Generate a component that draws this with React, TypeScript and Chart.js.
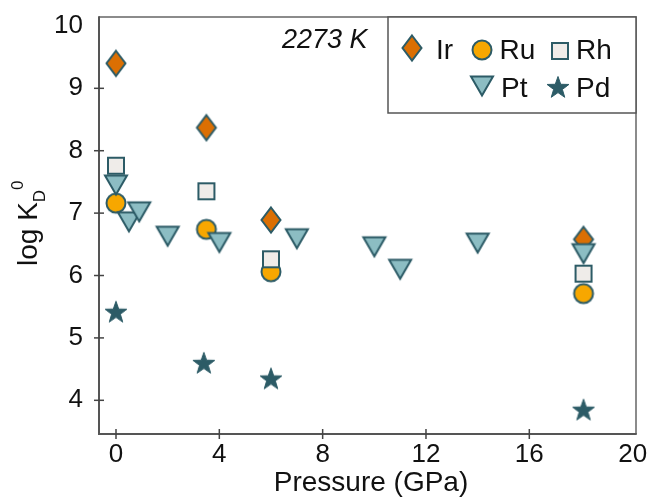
import { useEffect, useRef } from 'react';
import { Chart, registerables } from 'chart.js';

Chart.register(...registerables);

// ---- data ----
const xTickValues = [0, 4, 8, 12, 16, 20];
const yTickValues = [4, 5, 6, 7, 8, 9, 10];

const irPressure = [0, 3.5, 6, 18.1];
const irLogKd = [9.4, 8.37, 6.89, 6.58];
const ruPressure = [0, 3.5, 6, 18.1];
const ruLogKd = [7.16, 6.74, 6.06, 5.71];
const rhPressure = [0, 3.5, 6, 18.1];
const rhLogKd = [7.76, 7.35, 6.26, 6.03];
const ptPressure = [0, 0.5, 0.9, 2, 4, 7, 10, 11, 14, 18.1];
const ptLogKd = [7.45, 6.86, 7.02, 6.63, 6.53, 6.59, 6.46, 6.1, 6.52, 6.35];
const pdPressure = [0, 3.4, 6, 18.1];
const pdLogKd = [5.42, 4.6, 4.35, 3.85];

const seriesNames = ['Ir', 'Ru', 'Rh', 'Pt', 'Pd'];
const annotationText = '2273 K';
const xTitle = 'Pressure (GPa)';

const FONT = '"Liberation Sans", Arial, Helvetica, sans-serif';
const EDGE = '#2C5B66';

type Kind = 'diamond' | 'circle' | 'square' | 'triangleDown' | 'star';

function makeMarker(kind: Kind, fill: string, stroke: string): HTMLCanvasElement {
  const size = 34;
  const c = document.createElement('canvas');
  c.width = size;
  c.height = size;
  const ctx = c.getContext('2d')!;
  const cx = size / 2;
  const cy = size / 2;
  ctx.fillStyle = fill;
  ctx.strokeStyle = stroke;
  ctx.lineWidth = 2;
  ctx.lineJoin = 'miter';
  ctx.beginPath();
  if (kind === 'diamond') {
    const hw = 9.5, hh = 12.5;
    ctx.moveTo(cx, cy - hh);
    ctx.lineTo(cx + hw, cy);
    ctx.lineTo(cx, cy + hh);
    ctx.lineTo(cx - hw, cy);
    ctx.closePath();
  } else if (kind === 'circle') {
    ctx.arc(cx, cy, 9.5, 0, Math.PI * 2);
  } else if (kind === 'square') {
    ctx.rect(cx - 8, cy - 8, 16, 16);
  } else if (kind === 'triangleDown') {
    const s = 22;
    const h = (s * Math.sqrt(3)) / 2;
    ctx.moveTo(cx - s / 2, cy - h / 2);
    ctx.lineTo(cx + s / 2, cy - h / 2);
    ctx.lineTo(cx, cy + h / 2);
    ctx.closePath();
  } else {
    const R = 11.5, r = 4.6;
    for (let i = 0; i < 10; i++) {
      const a = -Math.PI / 2 + (i * Math.PI) / 5;
      const rad = i % 2 === 0 ? R : r;
      const px = cx + rad * Math.cos(a);
      const py = cy + 1 + rad * Math.sin(a);
      if (i === 0) ctx.moveTo(px, py);
      else ctx.lineTo(px, py);
    }
    ctx.closePath();
    ctx.lineWidth = 1;
  }
  ctx.fill();
  ctx.stroke();
  return c;
}

export default function App() {
  const ref = useRef<HTMLCanvasElement | null>(null);

  useEffect(() => {
    const canvas = ref.current;
    if (!canvas) return;

    const markers = {
      Ir: makeMarker('diamond', '#DB6F03', EDGE),
      Ru: makeMarker('circle', '#F7A700', EDGE),
      Rh: makeMarker('square', '#EFECE9', EDGE),
      Pt: makeMarker('triangleDown', '#8CBDC3', EDGE),
      Pd: makeMarker('star', '#2C5B66', EDGE),
    };

    const pts = (xs: number[], ys: number[]) => xs.map((x, i) => ({ x, y: ys[i] }));

    const mk = (label: string, xs: number[], ys: number[], img: HTMLCanvasElement) => ({
      label,
      data: pts(xs, ys),
      pointStyle: img,
      pointRadius: 10,
      pointHoverRadius: 10,
      showLine: false,
    });

    const decor = {
      id: 'decor',
      beforeDatasetsDraw(chart: any) {
        const { ctx, chartArea: a, scales } = chart;
        ctx.save();
        ctx.strokeStyle = '#666';
        ctx.lineWidth = 1.5;
        ctx.beginPath();
        ctx.moveTo(a.left, a.top);
        ctx.lineTo(a.right, a.top);
        ctx.lineTo(a.right, a.bottom);
        ctx.stroke();
        ctx.strokeStyle = '#555';
        ctx.lineWidth = 2;
        ctx.beginPath();
        ctx.moveTo(a.left, a.top - 0.75);
        ctx.lineTo(a.left, a.bottom);
        ctx.lineTo(a.right + 0.75, a.bottom);
        ctx.stroke();
        ctx.strokeStyle = '#444';
        ctx.lineWidth = 1.5;
        yTickValues.filter((v) => v < 10).forEach((v) => {
          const y = scales.y.getPixelForValue(v);
          ctx.beginPath();
          ctx.moveTo(a.left - 5, y);
          ctx.lineTo(a.left + 5, y);
          ctx.stroke();
        });
        xTickValues.filter((v) => v < 20).forEach((v) => {
          const x = scales.x.getPixelForValue(v);
          ctx.beginPath();
          ctx.moveTo(x, a.bottom - 5);
          ctx.lineTo(x, a.bottom + 5);
          ctx.stroke();
        });
        ctx.restore();
      },
      afterDraw(chart: any) {
        const { ctx, chartArea: a } = chart;
        ctx.save();
        // annotation
        ctx.fillStyle = '#111';
        ctx.font = `italic 27px ${FONT}`;
        ctx.textAlign = 'left';
        ctx.textBaseline = 'alphabetic';
        ctx.fillText(annotationText, 282, 48);

        // legend box
        const lx = 388, ly = a.top, lw = a.right - 388, lh = 113 - a.top;
        ctx.fillStyle = '#fff';
        ctx.fillRect(lx, ly, lw, lh);
        ctx.strokeStyle = '#555';
        ctx.lineWidth = 1.5;
        ctx.strokeRect(lx, ly, lw, lh);
        const items: [string, number, number, number, number][] = [
          [seriesNames[0], 412, 48, 436, 59],
          [seriesNames[1], 482, 50, 499.5, 59],
          [seriesNames[2], 560, 51, 576, 59],
          [seriesNames[3], 482, 86, 501, 97],
          [seriesNames[4], 558, 87, 576, 97],
        ];
        ctx.font = `28px ${FONT}`;
        ctx.fillStyle = '#111';
        items.forEach(([name, mx, my, tx, ty]) => {
          const img = (markers as any)[name] as HTMLCanvasElement;
          ctx.drawImage(img, mx - img.width / 2, my - img.height / 2);
          ctx.fillText(name, tx, ty);
        });

        // x title
        ctx.textAlign = 'center';
        ctx.fillText(xTitle, 371, 491);

        // y title
        ctx.save();
        ctx.translate(37, 0);
        ctx.rotate(-Math.PI / 2);
        ctx.textAlign = 'left';
        ctx.font = `28px ${FONT}`;
        const start = -266;
        const main = 'log K';
        ctx.fillText(main, start, 0);
        const w1 = ctx.measureText(main).width;
        ctx.font = `17px ${FONT}`;
        ctx.fillText('D', start + w1, 8);
        const w2 = ctx.measureText('D').width;
        ctx.fillText('0', start + w1 + w2, -14);
        ctx.restore();

        ctx.restore();
      },
    };

    const chart = new Chart(canvas, {
      type: 'scatter',
      data: {
        datasets: [
          mk(seriesNames[4], pdPressure, pdLogKd, markers.Pd),
          mk(seriesNames[3], ptPressure, ptLogKd, markers.Pt),
          mk(seriesNames[2], rhPressure, rhLogKd, markers.Rh),
          mk(seriesNames[1], ruPressure, ruLogKd, markers.Ru),
          mk(seriesNames[0], irPressure, irLogKd, markers.Ir),
        ] as any,
      },
      options: {
        responsive: false,
        animation: false,
        devicePixelRatio: 1,
        layout: { padding: { top: 17, right: 16, left: 0, bottom: 0 } },
        plugins: {
          legend: { display: false },
          tooltip: { enabled: false },
        },
        events: [],
        scales: {
          x: {
            type: 'linear',
            position: 'bottom',
            min: -0.658,
            max: 20.13,
            afterBuildTicks: (s: any) => {
              s.ticks = xTickValues.map((v) => ({ value: v }));
            },
            afterFit: (s: any) => {
              s.height = 64;
              s.paddingLeft = 0;
              s.paddingRight = 0;
            },
            grid: { display: false, drawTicks: false },
            border: { display: false },
            ticks: {
              padding: 5,
              color: '#111',
              font: { family: FONT, size: 26 },
              maxRotation: 0,
              autoSkip: false,
            },
          },
          y: {
            type: 'linear',
            position: 'left',
            min: 3.46,
            max: 10.143,
            afterBuildTicks: (s: any) => {
              s.ticks = yTickValues.map((v) => ({ value: v }));
            },
            afterFit: (s: any) => {
              s.width = 99;
              s.paddingTop = 0;
              s.paddingBottom = 0;
            },
            grid: { display: false, drawTicks: false },
            border: { display: false },
            ticks: {
              padding: 16,
              color: '#111',
              font: { family: FONT, size: 26 },
              autoSkip: false,
            },
          },
        },
      },
      plugins: [decor],
    });

    return () => chart.destroy();
  }, []);

  return (
    <div style={{ position: 'fixed', left: 0, top: 0, width: 652, height: 498, background: '#fff' }}>
      <canvas ref={ref} width={652} height={498} style={{ display: 'block', width: 652, height: 498 }} />
    </div>
  );
}
